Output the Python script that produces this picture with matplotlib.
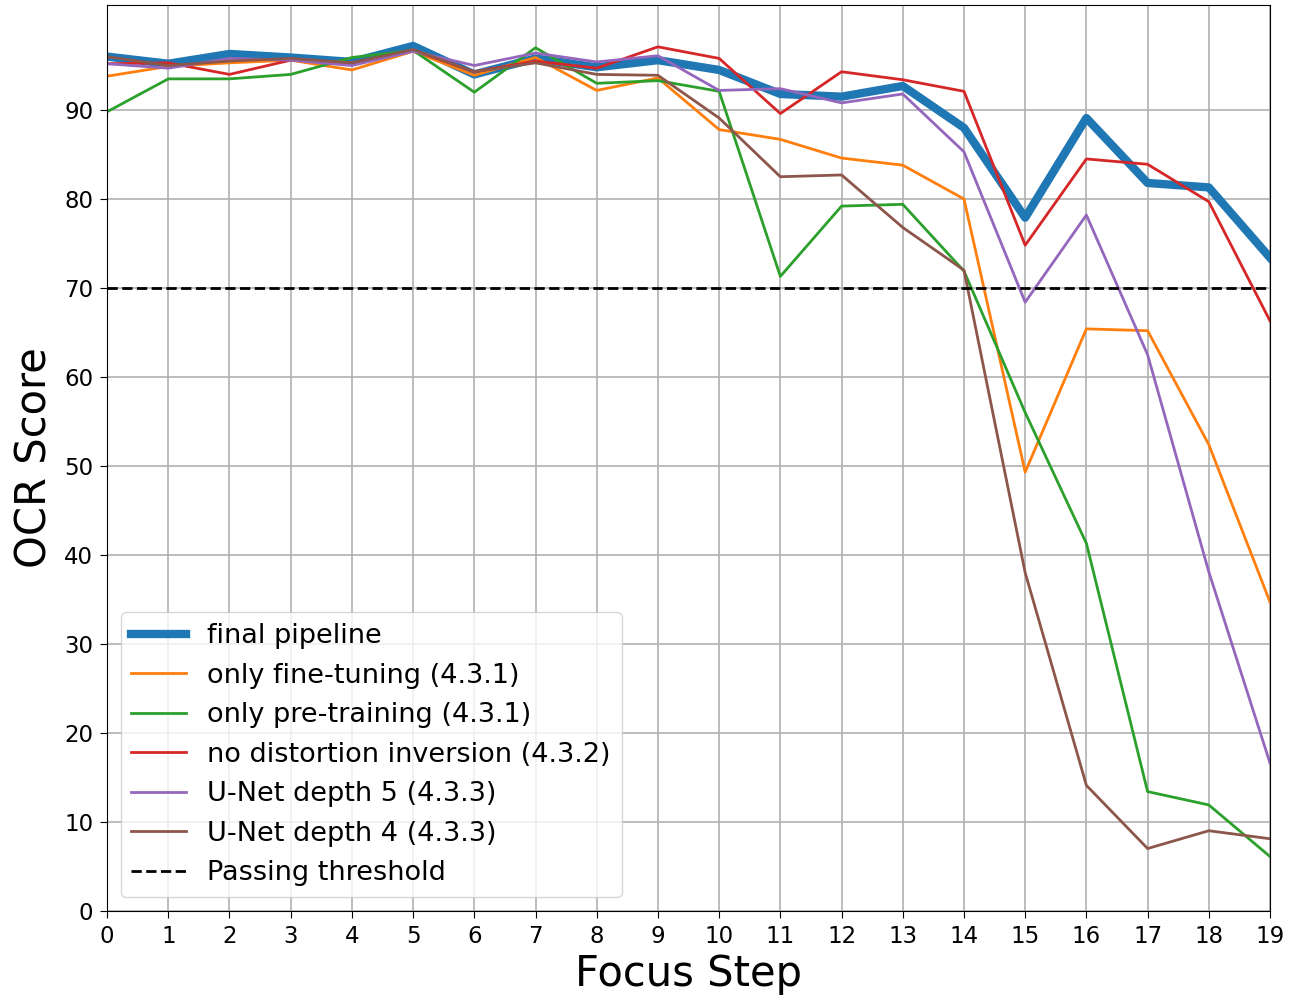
import matplotlib
matplotlib.use("Agg")
import matplotlib.pyplot as plt

steps = list(range(20))
final_pipeline = [96.0, 95.2, 96.3, 95.9, 95.4, 97.2, 94.0, 95.8, 94.8, 95.6,
                  94.5, 91.8, 91.5, 92.7, 88.0, 77.9, 89.1, 81.8, 81.3, 73.4]
only_finetune = [93.8, 94.9, 95.3, 95.6, 94.5, 96.6, 93.9, 95.9, 92.2, 93.6,
                 87.8, 86.7, 84.6, 83.8, 80.0, 49.3, 65.4, 65.2, 52.4, 34.7]
only_pretrain = [89.8, 93.5, 93.5, 94.0, 95.9, 96.7, 92.0, 97.0, 93.0, 93.3,
                 92.1, 71.3, 79.2, 79.4, 71.9, 56.0, 41.3, 13.4, 11.9, 6.1]
no_distortion = [95.2, 95.3, 94.0, 95.6, 95.3, 96.7, 94.3, 95.5, 94.7, 97.1,
                 95.8, 89.6, 94.3, 93.4, 92.1, 74.8, 84.5, 83.9, 79.7, 66.3]
unet_depth5 = [95.2, 94.7, 95.8, 95.6, 95.0, 96.6, 95.0, 96.4, 95.4, 96.1,
               92.2, 92.4, 90.8, 91.8, 85.3, 68.4, 78.2, 62.5, 38.1, 16.6]
unet_depth4 = [96.0, 95.0, 95.5, 95.8, 95.3, 96.8, 94.3, 95.3, 94.0, 93.9,
               89.1, 82.5, 82.7, 76.8, 72.0, 38.0, 14.1, 7.0, 9.0, 8.1]
threshold = 70

labels = ["final pipeline", "only fine-tuning (4.3.1)", "only pre-training (4.3.1)",
          "no distortion inversion (4.3.2)", "U-Net depth 5 (4.3.3)",
          "U-Net depth 4 (4.3.3)", "Passing threshold"]

fig = plt.figure(figsize=(12.9, 10.02), dpi=100)
ax = fig.add_axes([0.083, 0.091, 0.9015, 0.904])

ax.plot(steps, final_pipeline, color="#1f77b4", lw=6, label=labels[0])
ax.plot(steps, only_finetune, color="#ff7f0e", lw=2, label=labels[1])
ax.plot(steps, only_pretrain, color="#2ca02c", lw=2, label=labels[2])
ax.plot(steps, no_distortion, color="#d62728", lw=2, label=labels[3])
ax.plot(steps, unet_depth5, color="#9467bd", lw=2, label=labels[4])
ax.plot(steps, unet_depth4, color="#8c564b", lw=2, label=labels[5])
ax.axhline(threshold, color="black", ls="--", lw=2, label=labels[6])

ax.set_xlim(0, 19)
ax.set_ylim(0, 101.8)
ax.set_xticks(steps)
ax.set_yticks(range(0, 100, 10))
ax.tick_params(labelsize=16.5, length=5, pad=5)
ax.grid(True, color="#b0b0b0", lw=1.2)
ax.set_xlabel("Focus Step", fontsize=30, labelpad=4)
ax.set_ylabel("OCR Score", fontsize=30, labelpad=6)
ax.legend(loc="lower left", fontsize=19.5, borderaxespad=0.5)

fig.savefig("out.png", dpi=100)
